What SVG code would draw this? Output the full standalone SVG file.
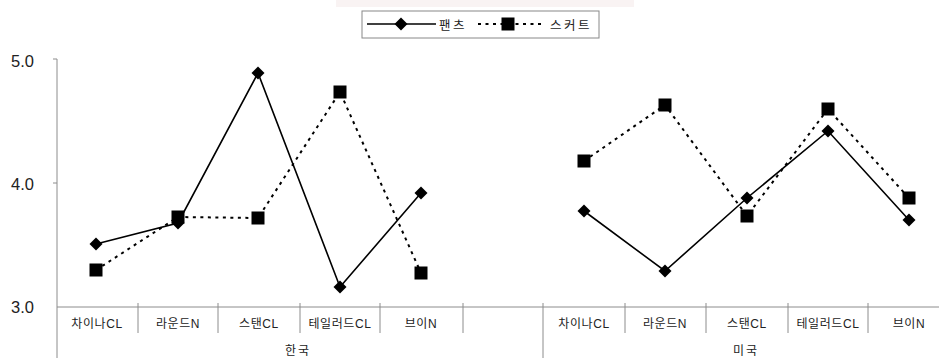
<svg xmlns="http://www.w3.org/2000/svg" width="939" height="358" viewBox="0 0 939 358">
<style>
.ax{stroke:#8c8c8c;stroke-width:1;fill:none}
.yl{font-family:"Liberation Sans",Arial,sans-serif;font-size:16.5px;fill:#222;text-anchor:end;dominant-baseline:central}
.cl{font-family:"Liberation Sans","Noto Sans CJK KR",sans-serif;font-size:12px;fill:#222;text-anchor:middle;dominant-baseline:central;letter-spacing:0.6px}
.lg{font-family:"Noto Sans CJK KR",sans-serif;font-size:12.5px;fill:#222;text-anchor:middle;dominant-baseline:central;letter-spacing:2.5px}
.pants{stroke:#000;stroke-width:1.6;fill:none}
.skirt{stroke:#000;stroke-width:2;fill:none;stroke-dasharray:3 4.5}
.mk{fill:#000}
</style>
<defs>
<path id="dia" d="M0,-6.5 L6.5,0 L0,6.5 L-6.5,0 Z"/>
<rect id="sq" x="-6.5" y="-6.5" width="13" height="13"/>
</defs>
<rect x="0" y="0" width="939" height="358" fill="#fff"/>
<rect x="336" y="0" width="298" height="7" fill="#f9f3f3"/>
<g id="axes">
<line class="ax" x1="57" y1="59" x2="57" y2="358"/>
<line class="ax" x1="53" y1="59" x2="57" y2="59"/>
<line class="ax" x1="53" y1="183" x2="57" y2="183"/>
<line class="ax" x1="57" y1="307" x2="939" y2="307"/>
<line class="ax" x1="138" y1="303" x2="138" y2="333"/>
<line class="ax" x1="218" y1="303" x2="218" y2="333"/>
<line class="ax" x1="300" y1="303" x2="300" y2="333"/>
<line class="ax" x1="380" y1="303" x2="380" y2="333"/>
<line class="ax" x1="463" y1="303" x2="463" y2="333"/>
<line class="ax" x1="543" y1="303" x2="543" y2="358"/>
<line class="ax" x1="625" y1="303" x2="625" y2="333"/>
<line class="ax" x1="706" y1="303" x2="706" y2="333"/>
<line class="ax" x1="788" y1="303" x2="788" y2="333"/>
<line class="ax" x1="868" y1="303" x2="868" y2="333"/>
<text class="yl" x="34" y="61">5.0</text>
<text class="yl" x="34" y="184">4.0</text>
<text class="yl" x="34" y="307">3.0</text>
</g>
<g id="categories">
<text class="cl" x="97" y="324">차이나CL</text>
<text class="cl" x="178" y="324">라운드N</text>
<text class="cl" x="259" y="324">스탠CL</text>
<text class="cl" x="340" y="324">테일러드CL</text>
<text class="cl" x="421" y="324">브이N</text>
<text class="cl" x="584" y="324">차이나CL</text>
<text class="cl" x="665" y="324">라운드N</text>
<text class="cl" x="747" y="324">스탠CL</text>
<text class="cl" x="828" y="324">테일러드CL</text>
<text class="cl" x="909" y="324">브이N</text>
<text class="cl" x="298" y="351" style="letter-spacing:2px">한국</text>
<text class="cl" x="746" y="351" style="letter-spacing:2px">미국</text>
</g>
<g id="connectors">
<polyline class="pants" points="96,244 178,223 258,73 340,287 421,193"/>
<polyline class="skirt" points="96,270 178,217 258,218 340,92 421,273"/>
<polyline class="pants" points="584,211 665,271 747,198 828,131 909,220"/>
<polyline class="skirt" points="584,161 665,105 747,216 828,109 909,198"/>
</g>
<g id="pants-markers" class="mk">
<use href="#dia" x="96" y="244"/>
<use href="#dia" x="178" y="223"/>
<use href="#dia" x="258" y="73"/>
<use href="#dia" x="340" y="287"/>
<use href="#dia" x="421" y="193"/>
<use href="#dia" x="584" y="211"/>
<use href="#dia" x="665" y="271"/>
<use href="#dia" x="747" y="198"/>
<use href="#dia" x="828" y="131"/>
<use href="#dia" x="909" y="220"/>
</g>
<g id="skirt-markers" class="mk">
<use href="#sq" x="96" y="270"/>
<use href="#sq" x="178" y="217"/>
<use href="#sq" x="258" y="218"/>
<use href="#sq" x="340" y="92"/>
<use href="#sq" x="421" y="273"/>
<use href="#sq" x="584" y="161"/>
<use href="#sq" x="665" y="105"/>
<use href="#sq" x="747" y="216"/>
<use href="#sq" x="828" y="109"/>
<use href="#sq" x="909" y="198"/>
</g>
<g id="legend">
<rect x="362" y="11" width="237" height="27" fill="#fff" stroke="#888" stroke-width="1"/>
<line class="pants" x1="367" y1="24" x2="436" y2="24"/>
<use href="#dia" x="401" y="24" class="mk"/>
<text class="lg" x="453" y="24">팬츠</text>
<line class="skirt" x1="478" y1="24" x2="542" y2="24"/>
<use href="#sq" x="508" y="24" class="mk"/>
<text class="lg" x="571" y="24">스커트</text>
</g>
</svg>
